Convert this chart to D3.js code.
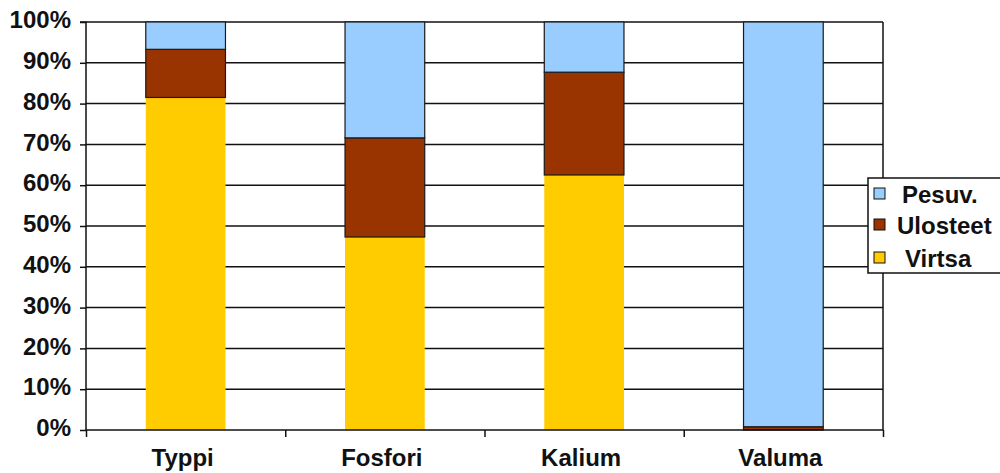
<!DOCTYPE html>
<html><head><meta charset="utf-8">
<script src="https://cdn.jsdelivr.net/npm/d3@7"></script>
<style>body{margin:0;background:#fff}svg{display:block}</style>
</head><body><svg id="c" width="1000" height="473"></svg>
<script>
const categories = ["Typpi", "Fosfori", "Kalium", "Valuma"];
const seriesNames = ["Virtsa", "Ulosteet", "Pesuv."];
const virtsa = [81.5, 47.3, 62.5, 0];
const ulosteet = [11.8, 24.3, 25.2, 0.8];
const pesuv = [6.7, 28.4, 12.3, 99.2];
const yTicks = [0, 10, 20, 30, 40, 50, 60, 70, 80, 90, 100];
const colors = {"Virtsa": "#FFCC00", "Ulosteet": "#993300", "Pesuv.": "#99CCFF"};

const svg = d3.select("#c");
const font = "'Liberation Sans', Arial, sans-serif";
const x0 = 86, x1 = 883, yTop = 22, yBot = 430;
const x = d3.scaleBand().domain(categories).range([x0, x1]).paddingInner(0.6).paddingOuter(0.3);
const y = d3.scaleLinear().domain([0, 100]).range([yBot, yTop]);

const rows = categories.map((c, i) => ({cat: c, "Virtsa": virtsa[i], "Ulosteet": ulosteet[i], "Pesuv.": pesuv[i]}));
const stacked = d3.stack().keys(seriesNames)(rows);

// gridlines
svg.append("g").selectAll("line").data(yTicks.filter(t => t > 0)).join("line")
  .attr("x1", x0).attr("x2", x1).attr("y1", d => y(d)).attr("y2", d => y(d))
  .attr("stroke", "#111").attr("stroke-width", 1.5);

// bars
svg.append("g").selectAll("g").data(stacked).join("g")
  .attr("fill", d => colors[d.key])
  .selectAll("rect").data(d => d.map(v => Object.assign(v, {key: d.key}))).join("rect")
  .attr("x", d => x(d.data.cat))
  .attr("width", x.bandwidth())
  .attr("y", d => y(d[1]))
  .attr("height", d => Math.max(0, y(d[0]) - y(d[1])))
  .attr("stroke", d => d.key === "Virtsa" ? "none" : "#1a1a1a")
  .attr("stroke-width", 1.2);

// y axis
const yAxis = d3.axisLeft(y).tickValues(yTicks).tickFormat(d => d + "%").tickSize(6).tickPadding(9);
const gy = svg.append("g").attr("transform", `translate(${x0},0)`).call(yAxis);
gy.select(".domain").attr("stroke", "#111").attr("stroke-width", 1.5).attr("d", `M-6,${yTop}H0V${yBot}`);
gy.selectAll(".tick line").attr("stroke", "#111").attr("stroke-width", 1.5);
gy.selectAll(".tick text").attr("font-family", font).attr("font-weight", "bold").attr("font-size", 24)
  .attr("dy", "0.24em").attr("fill", "#111");

// x axis
const xAxis = d3.axisBottom(d3.scaleLinear().domain([0, 4]).range([x0, x1])).tickValues([0, 1, 2, 3, 4]).tickFormat("").tickSize(7);
const gx = svg.append("g").attr("transform", `translate(0,${yBot})`).call(xAxis);
gx.select(".domain").attr("stroke", "#111").attr("stroke-width", 1.5).attr("d", `M${x0},0H${x1}`);
gx.selectAll(".tick line").attr("stroke", "#111").attr("stroke-width", 1.5);

// right border
svg.append("line").attr("x1", x1).attr("x2", x1).attr("y1", yTop).attr("y2", yBot).attr("stroke", "#111").attr("stroke-width", 1.5);

// category labels
svg.append("g").selectAll("text").data(categories).join("text")
  .attr("x", d => x(d) + x.bandwidth() / 2 - 3)
  .attr("y", 466)
  .attr("text-anchor", "middle")
  .attr("font-family", font).attr("font-weight", "bold").attr("font-size", 24).attr("fill", "#111")
  .text(d => d);

// legend
const lg = svg.append("g");
lg.append("rect").attr("x", 868).attr("y", 178).attr("width", 140).attr("height", 95)
  .attr("fill", "#fff").attr("stroke", "#111").attr("stroke-width", 1.5);
const legendItems = ["Pesuv.", "Ulosteet", "Virtsa"];
const legendY = [194, 225, 258];
const legendTx = [902, 897, 905];
legendItems.forEach((k, i) => {
  lg.append("rect").attr("x", 874).attr("y", legendY[i] - 6).attr("width", 11).attr("height", 11)
    .attr("fill", colors[k]).attr("stroke", "#111").attr("stroke-width", 1);
  lg.append("text").attr("x", legendTx[i]).attr("y", legendY[i] + 9)
    .attr("font-family", font).attr("font-weight", "bold").attr("font-size", 24).attr("fill", "#111")
    .text(k);
});
</script>
</body></html>
